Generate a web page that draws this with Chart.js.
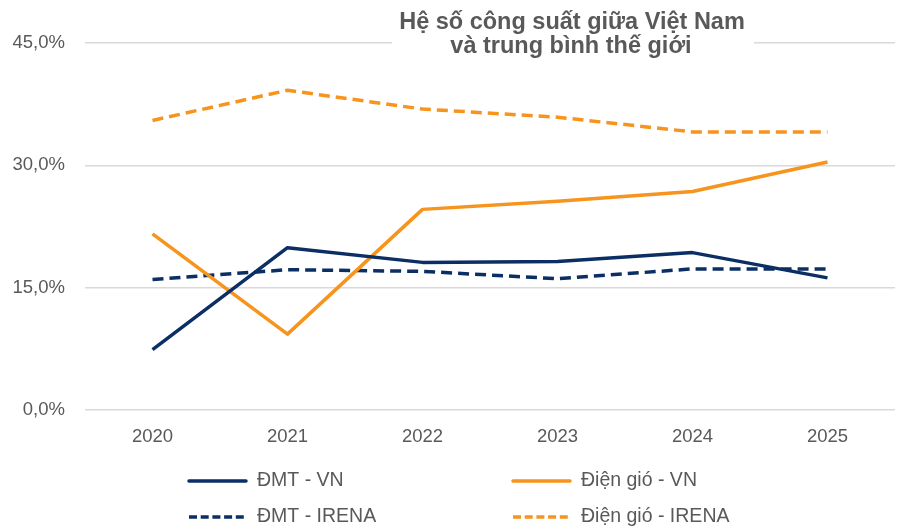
<!DOCTYPE html>
<html>
<head>
<meta charset="utf-8">
<script src="https://cdn.jsdelivr.net/npm/chart.js@4"></script>
<style>
html,body{margin:0;padding:0;background:#fff;}
#wrap{position:relative;width:901px;height:529px;}
</style>
</head>
<body>
<div id="wrap"><canvas id="c" width="901" height="529"></canvas></div>
<script>
const years = ['2020','2021','2022','2023','2024','2025'];
const dmtVN = [7.4, 19.9, 18.1, 18.2, 19.3, 16.2];
const gioVN = [21.6, 9.3, 24.6, 25.6, 26.8, 30.4];
const dmtIRENA = [16.0, 17.2, 17.0, 16.1, 17.3, 17.3];
const gioIRENA = [35.5, 39.2, 36.9, 35.9, 34.1, 34.1];
const yTicks = [0, 15, 30, 45];
const titleLines = ['Hệ số công suất giữa Việt Nam', 'và trung bình thế giới'];
const seriesNames = ['ĐMT - VN', 'Điện gió - VN', 'ĐMT - IRENA', 'Điện gió - IRENA'];

const NAVY = '#0B2F64';
const ORANGE = '#F7941D';
const GRAY = '#595959';
const FONT = "'Liberation Sans', Arial, sans-serif";

const overlay = {
  id: 'overlay',
  afterDraw(chart) {
    const ctx = chart.ctx;
    ctx.save();
    // title
    ctx.fillStyle = '#fff';
    ctx.fillRect(392, 2, 362, 60);
    ctx.fillStyle = GRAY;
    ctx.font = "bold 23.5px " + FONT;
    ctx.textAlign = 'center';
    ctx.textBaseline = 'alphabetic';
    ctx.fillText(titleLines[0], 572, 29);
    ctx.fillText(titleLines[1], 571, 53);
    // legend
    const pos = [[189, 481], [513, 481], [189, 517], [513, 517]];
    chart.data.datasets.forEach((ds, i) => {
      const [x, y] = pos[i];
      ctx.strokeStyle = ds.borderColor;
      ctx.lineWidth = 3.5;
      ctx.lineCap = ds.borderDash ? 'butt' : 'round';
      ctx.setLineDash(ds.borderDash ? [8, 3.7] : []);
      ctx.beginPath();
      ctx.moveTo(x, y);
      ctx.lineTo(x + 57, y);
      ctx.stroke();
      ctx.setLineDash([]);
      ctx.fillStyle = GRAY;
      ctx.font = "19.5px " + FONT;
      ctx.textAlign = 'left';
      ctx.textBaseline = 'middle';
      ctx.fillText(ds.label, x + 68, y);
    });
    ctx.restore();
  }
};

new Chart(document.getElementById('c'), {
  type: 'line',
  data: {
    labels: years,
    datasets: [
      {label: seriesNames[0], data: dmtVN, borderColor: NAVY, borderWidth: 3.5},
      {label: seriesNames[1], data: gioVN, borderColor: ORANGE, borderWidth: 3.5},
      {label: seriesNames[2], data: dmtIRENA, borderColor: NAVY, borderWidth: 3.5, borderDash: [11, 6]},
      {label: seriesNames[3], data: gioIRENA, borderColor: ORANGE, borderWidth: 3.5, borderDash: [11, 6]}
    ]
  },
  options: {
    responsive: false,
    animation: false,
    devicePixelRatio: 1,
    elements: {point: {radius: 0}, line: {tension: 0, borderCapStyle: 'butt', borderJoinStyle: 'round'}},
    layout: {padding: {top: 43, right: 6, bottom: 0, left: 0}},
    plugins: {legend: {display: false}, title: {display: false}, tooltip: {enabled: false}},
    scales: {
      x: {
        offset: true,
        grid: {display: false, drawTicks: false},
        border: {display: false},
        ticks: {color: GRAY, font: {size: 18.5, family: FONT}, padding: 16, maxRotation: 0},
        afterFit(s) { s.height = 119; }
      },
      y: {
        min: 0, max: 45,
        afterBuildTicks(s) { s.ticks = yTicks.map(v => ({value: v})); },
        grid: {color: '#D9D9D9', lineWidth: 1.5, drawTicks: false},
        border: {display: false},
        ticks: {color: GRAY, font: {size: 18.5, family: FONT}, padding: 20,
          callback: v => v.toFixed(1).replace('.', ',') + '%'},
        afterFit(s) { s.width = 85; }
      }
    }
  },
  plugins: [overlay]
});
</script>
</body>
</html>
